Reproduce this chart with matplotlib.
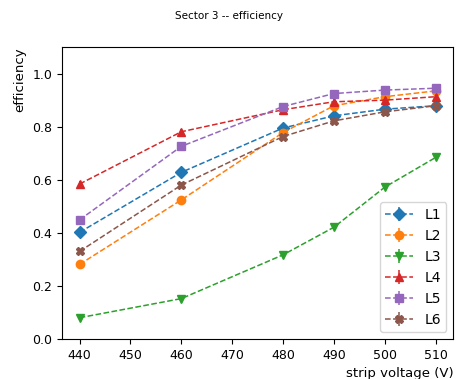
import matplotlib
matplotlib.use("Agg")
import matplotlib.pyplot as plt
import numpy as np

# strip voltages (V)
voltage = [440, 460, 480, 490, 500, 510]

# efficiency per layer
eff_L1 = [0.403, 0.629, 0.796, 0.842, 0.867, 0.880]
eff_L2 = [0.282, 0.525, 0.779, 0.880, 0.914, 0.936]
eff_L3 = [0.081, 0.153, 0.318, 0.422, 0.573, 0.685]
eff_L4 = [0.585, 0.782, 0.865, 0.895, 0.901, 0.914]
eff_L5 = [0.450, 0.727, 0.877, 0.926, 0.939, 0.946]
eff_L6 = [0.331, 0.581, 0.764, 0.823, 0.857, 0.880]

labels = ["L1", "L2", "L3", "L4", "L5", "L6"]
markers = ["D", "o", "v", "^", "s", "X"]
series = [eff_L1, eff_L2, eff_L3, eff_L4, eff_L5, eff_L6]

fig, ax = plt.subplots(figsize=(4.58, 3.79), dpi=100)

for eff, lab, m in zip(series, labels, markers):
    ax.errorbar(voltage, eff, yerr=0.01, marker=m, linestyle="--",
                markersize=6, linewidth=1.1, label=lab)

ax.set_xlim(436.5, 513.5)
ax.set_ylim(0, 1.1)
ax.set_xticks(np.arange(440, 511, 10))
ax.set_yticks(np.arange(0, 1.01, 0.2))
ax.tick_params(labelsize=9)
ax.set_xlabel("strip voltage (V)", loc="right", fontsize=9.5)
ax.set_ylabel("efficiency", loc="top", fontsize=9.5)
fig.suptitle("Sector 3 -- efficiency", fontsize=7.5, y=0.97)
ax.legend(loc="lower right", fontsize=10, handlelength=2)

fig.subplots_adjust(left=0.135, right=0.99, top=0.875, bottom=0.105)
fig.savefig("out.png")
